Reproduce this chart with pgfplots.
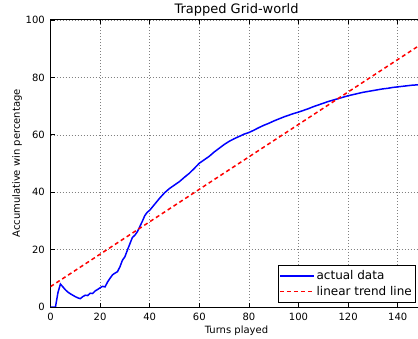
\documentclass[border=0pt]{standalone}
\usepackage{fontspec}
\setmainfont{DejaVu Sans}
\usepackage{pgfplots}
\pgfplotsset{compat=1.18}
\definecolor{mplblue}{rgb}{0,0,1}
\definecolor{mplred}{rgb}{1,0,0}
\begin{document}
\begin{tikzpicture}
\begin{axis}[
  scale only axis,
  width=372bp, height=287bp,
  xmin=0, xmax=150, ymin=0, ymax=100,
  xtick={0,20,40,60,80,100,120,140},
  ytick={0,20,40,60,80,100},
  /pgf/number format/assume math mode=true,
  tick label style={font=\fontsize{10bp}{12bp}\selectfont, inner sep=0pt},
  xticklabel style={yshift=-5.5bp},
  yticklabel style={xshift=-5.5bp},
  tick pos=both, tick align=inside, major tick length=4bp,
  every tick/.append style={black, line width=0.6bp},
  axis line style={black, line width=1bp},
  grid=major,
  major grid style={gray, line width=0.5bp, dash pattern=on 1bp off 2bp},
  every axis title shift=0pt,
  title={Trapped Grid-world},
  title style={font=\fontsize{13bp}{15bp}\selectfont, at={(axis description cs:0.5,1.0209)}, anchor=base, inner sep=0pt, yshift=0pt},
  xlabel={Turns played},
  xlabel style={font=\fontsize{10bp}{12bp}\selectfont, at={(axis description cs:0.5,-0.0906)}, anchor=base, inner sep=0pt},
  ylabel={Accumulative win percentage},
  ylabel style={font=\fontsize{10bp}{12bp}\selectfont, at={(axis description cs:-0.082,0.5)}, anchor=base, inner sep=0pt},
  legend style={at={(1,0)}, anchor=south east, xshift=-7.5bp, yshift=5bp,
    font=\fontsize{12bp}{14bp}\selectfont,
    inner xsep=1bp, inner ysep=3bp, row sep=1bp, cells={anchor=west}},
  legend image code/.code={\draw[#1] (0bp,0bp) -- (19bp,0bp); \path (-7bp,0bp) -- (27bp,0bp);},
]
\addplot[mplblue, line width=1.5bp, forget plot] coordinates {
(0,0) (1,0) (2,0) (3,5) (4,8) (5,7) (6,6) (7,5.2) (8,4.6) (9,4.1) (10,3.6)
(11,3.2) (12,2.9) (13,3.6) (14,4.1) (15,4.0) (16,4.8) (17,4.7) (18,5.6) (19,6.1)
(20,6.7) (21,7.2) (22,7.0) (23,8.7) (24,10.0) (25,11.2) (26,11.8) (27,12.3)
(28,14) (29,16.3) (30,17.5) (31,19.8) (32,22) (33,24.2) (34,25.0) (35,26.2)
(36,28) (37,29.8) (38,31.8) (39,33) (40,33.7) (42,35.8) (44,37.9) (46,39.8)
(48,41.3) (50,42.5) (52,43.7) (54,45.2) (56,46.6) (58,48.3) (60,50.1) (62,51.3)
(64,52.5) (66,54.0) (68,55.3) (70,56.6) (72,57.7) (74,58.6) (76,59.4) (78,60.2)
(80,60.8) (82,61.6) (84,62.5) (86,63.3) (88,64.0) (90,64.8) (92,65.5) (94,66.2)
(96,66.8) (98,67.4) (100,67.9) (102,68.5) (104,69.1) (106,69.8) (108,70.4)
(110,71.0) (112,71.6) (114,72.1) (116,72.6) (118,73.1) (120,73.6) (122,74.0)
(124,74.4) (126,74.8) (128,75.1) (130,75.4) (132,75.7) (134,76.0) (136,76.2)
(138,76.5) (140,76.7) (142,76.9) (144,77.1) (146,77.3) (148,77.4) (149,77.5)
};
\addplot[mplred, line width=1.5bp, dash pattern=on 4bp off 3bp, forget plot] coordinates {
(0,7.1) (149,91.3)
};
\addlegendimage{mplblue, line width=1.5bp}
\addlegendentry{actual data}
\addlegendimage{mplred, line width=1.5bp, dash pattern=on 4bp off 3bp}
\addlegendentry{linear trend line}
\coordinate (SW) at (rel axis cs:0,0);
\coordinate (NE) at (rel axis cs:1,1);
\end{axis}
\pgfresetboundingbox
\path[use as bounding box] ([shift={(-50.5bp,-32bp)}]SW) rectangle ([shift={(-4.5bp,20bp)}]NE);
\end{tikzpicture}
\end{document}
